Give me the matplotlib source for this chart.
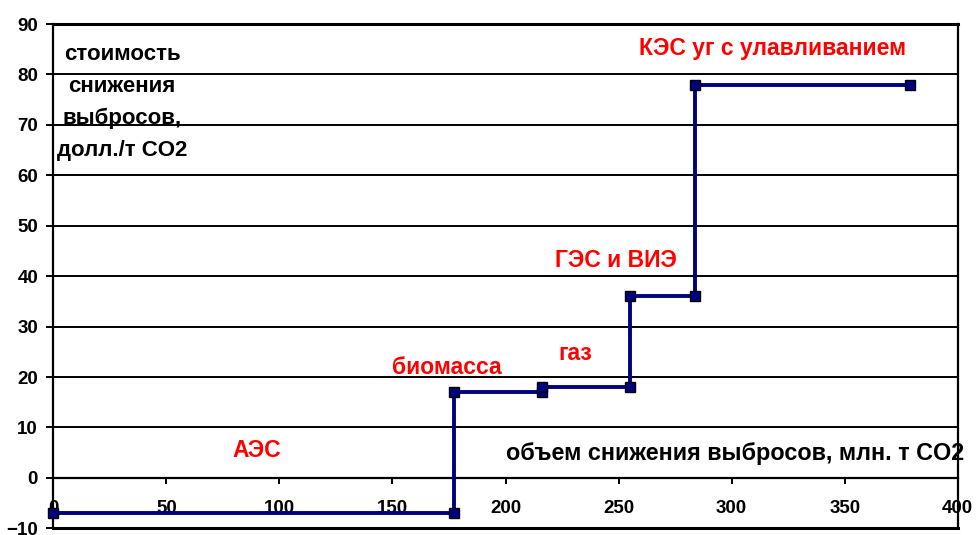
import matplotlib
matplotlib.use("Agg")
import matplotlib.pyplot as plt

plt.rcParams["font.family"] = ["Liberation Sans", "DejaVu Sans"]
plt.rcParams["font.weight"] = "bold"

# marginal abatement cost curve: cumulative volume vs cost
volume = [0, 177, 177, 216, 216, 255, 255, 284, 284, 379]
cost = [-7, -7, 17, 17, 18, 18, 36, 36, 78, 78]

x_ticks = [0, 50, 100, 150, 200, 250, 300, 350, 400]
y_ticks = [-10, 0, 10, 20, 30, 40, 50, 60, 70, 80, 90]

# technology labels along the curve
tech_names = ["АЭС", "биомасса", "газ", "ГЭС и ВИЭ", "КЭС уг с улавливанием"]
tech_x = [90, 174, 231, 249, 318]
tech_y = [5.5, 21.8, 24.6, 43.2, 85.1]

y_title = "стоимость\nснижения\nвыбросов,\nдолл./т CO2"
x_title = "объем снижения выбросов, млн. т CO2"

fig = plt.figure(figsize=(9.76, 5.35), dpi=100)
ax = fig.add_axes([0.0546, 0.0125, 0.9267, 0.9426])

ax.plot(volume, cost, color="#000080", lw=2.8, marker="s", markersize=7,
        markerfacecolor="#000080", markeredgecolor="black", markeredgewidth=1.0,
        zorder=4, clip_on=False)

ax.set_xlim(0, 400)
ax.set_ylim(-10, 90)
ax.set_xticks(x_ticks)
ax.set_yticks(y_ticks)
ax.grid(axis="y", color="black", lw=1.4)
ax.set_axisbelow(True)

ax.spines["top"].set_visible(False)
ax.spines["bottom"].set_position(("data", 0))
for side in ("left", "right", "bottom"):
    ax.spines[side].set_linewidth(1.6)
ax.axhline(-10, color="black", lw=2.2, clip_on=False)
ax.axhline(90, color="black", lw=2.2, clip_on=False)

ax.tick_params(axis="y", direction="out", length=5, width=1.4, pad=6, labelsize=13.5)
ax.tick_params(axis="x", direction="out", length=4, width=1.4, pad=12, labelsize=13.5)
for lbl in ax.get_xticklabels() + ax.get_yticklabels():
    lbl.set_fontweight("bold")

for name, tx, ty in zip(tech_names, tech_x, tech_y):
    ax.text(tx, ty, name, color="red", fontsize=16.5, fontweight="bold",
            ha="center", va="center")

ax.text(30.4, 74.4, y_title, fontsize=16, fontweight="bold",
        ha="center", va="center", linespacing=1.68)
ax.text(301.5, 4.9, x_title, fontsize=16.8, fontweight="bold",
        ha="center", va="center", clip_on=False)

fig.savefig("out.png", dpi=100)
